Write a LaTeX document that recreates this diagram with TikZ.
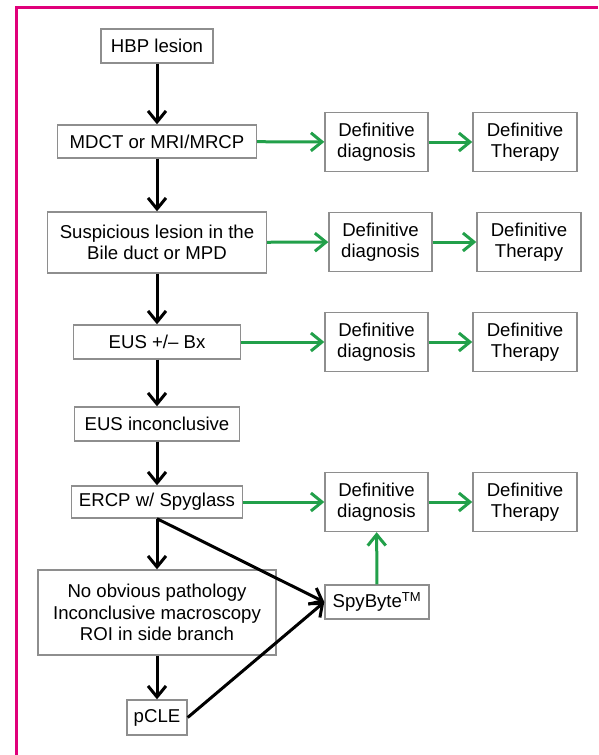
\documentclass[tikz,border=0pt]{standalone}
\usepackage{fontspec}
\setmainfont{Liberation Sans}
\usetikzlibrary{arrows.meta}
\definecolor{framemag}{HTML}{E0007A}
\definecolor{flowgreen}{HTML}{22A04A}
\definecolor{boxgray}{HTML}{8E8E8E}

\tikzset{
  box/.style={draw=boxgray,line width=1.4pt,fill=white,align=center,inner sep=0pt,
    font=\fontsize{18.6}{21.5}\selectfont},
  blk/.style={line width=3pt,-{Straight Barb[length=11pt,width=18pt]}},
  grn/.style={blk,draw=flowgreen},
}

\begin{document}
\begin{tikzpicture}[x=1pt,y=-1pt]
  \useasboundingbox (0,0) rectangle (598,755);
  \draw[framemag,line width=3pt] (16,755) -- (16,7) -- (598,7);
  % main column
  \node[box,minimum width=112pt,minimum height=34pt] (hbp) at (157,46) {HBP lesion};
  \node[box,minimum width=199pt,minimum height=33pt] (mdct) at (157,141.5) {MDCT or MRI/MRCP};
  \node[box,minimum width=219pt,minimum height=61pt] (susp) at (157,242.5) {Suspicious lesion in the\\Bile duct or MPD};
  \node[box,minimum width=167pt,minimum height=34pt] (eus) at (157,342) {EUS +/-- Bx};
  \node[box,minimum width=165pt,minimum height=34pt] (eusinc) at (157,424) {EUS inconclusive};
  \node[box,minimum width=171pt,minimum height=32pt] (ercp) at (157,502) {ERCP w/ Spyglass};
  \node[box,minimum width=238pt,minimum height=85pt] (noobv) at (157,612.5) {No obvious pathology\\Inconclusive macroscopy\\ROI in side branch};
  \node[box,minimum width=60pt,minimum height=35pt] (pcle) at (157,717.5) {pCLE};
  \node[box,minimum width=104pt,minimum height=34pt] (spy) at (377,602) {SpyByte\textsuperscript{TM}};
  % diagnosis / therapy rows
  \foreach \r/\y/\dx in {1/142/0,2/242/4,3/342/0,4/502/0}{
    \node[box,minimum width=103pt,minimum height=59pt] (dd\r) at (376.5+\dx,\y) {Definitive\\diagnosis};
    \node[box,minimum width=104pt,minimum height=59pt] (dt\r) at (525+\dx,\y) {Definitive\\Therapy};
    \draw[grn] (dd\r) -- (dt\r);
  }
  \draw[blk] (hbp) -- (mdct);
  \draw[blk] (mdct) -- (susp);
  \draw[blk] (susp) -- (eus);
  \draw[blk] (eus) -- (eusinc);
  \draw[blk] (eusinc) -- (ercp);
  \draw[blk] (ercp) -- (noobv);
  \draw[blk] (noobv) -- (pcle);
  \draw[blk] (ercp.south) -- (spy.west);
  \draw[blk] (pcle.east) -- (spy.west);
  \draw[grn] (mdct) -- (dd1);
  \draw[grn] (susp) -- (dd2);
  \draw[grn] (eus) -- (dd3);
  \draw[grn] (ercp) -- (dd4);
  \draw[grn] (spy) -- (dd4);
\end{tikzpicture}
\end{document}
